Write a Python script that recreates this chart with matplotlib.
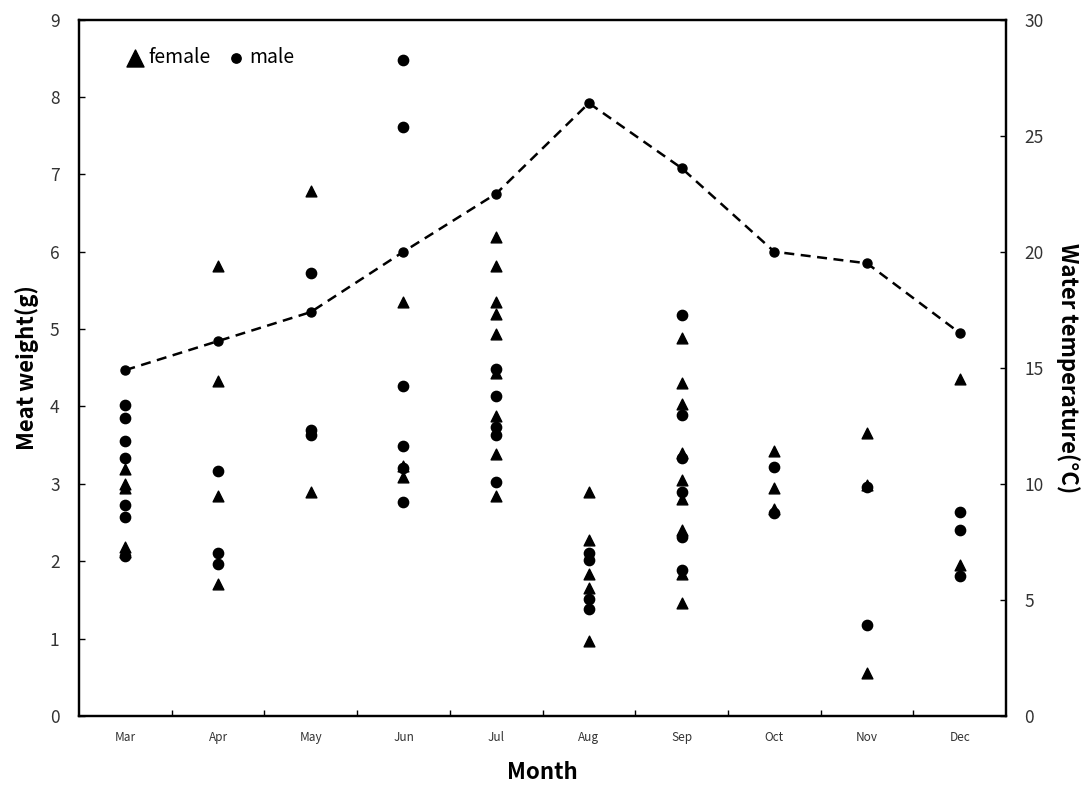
import matplotlib.pyplot as plt
from matplotlib.ticker import FixedLocator, NullFormatter

plt.rcParams['font.family'] = ['Noto Sans CJK KR', 'DejaVu Sans']

months = ["Mar", "Apr", "May", "Jun", "Jul", "Aug", "Sep", "Oct", "Nov", "Dec"]

# meat weight (g) of individual animals
female = {
    "Mar": [3.19, 3.00, 2.94, 2.19, 2.12],
    "Apr": [5.81, 4.33, 2.84, 1.71],
    "May": [6.78, 2.90],
    "Jun": [5.35, 3.23, 3.09],
    "Jul": [6.19, 5.81, 5.35, 5.19, 4.94, 4.43, 3.88, 3.38, 2.84],
    "Aug": [2.89, 2.28, 1.84, 1.65, 0.97],
    "Sep": [4.89, 4.30, 4.03, 3.40, 3.05, 2.81, 2.40, 1.84, 1.46],
    "Oct": [3.42, 2.94, 2.67],
    "Nov": [3.66, 2.98, 0.56],
    "Dec": [4.35, 1.95],
}
male = {
    "Mar": [4.02, 3.85, 3.56, 3.33, 2.73, 2.57, 2.07],
    "Apr": [3.17, 2.11, 1.96],
    "May": [5.73, 3.70, 3.63],
    "Jun": [8.48, 7.61, 4.27, 3.49, 3.21, 2.76],
    "Jul": [4.48, 4.13, 3.74, 3.63, 3.03],
    "Aug": [2.11, 2.02, 1.51, 1.38],
    "Sep": [5.18, 3.89, 3.34, 2.90, 2.31, 1.89],
    "Oct": [3.22, 2.62],
    "Nov": [2.96, 1.18],
    "Dec": [2.64, 2.40, 1.81],
}
# water temperature (°C)
water_temp = [14.9, 16.15, 17.4, 20.0, 22.5, 26.4, 23.6, 20.0, 19.5, 16.5]

fig = plt.figure(figsize=(10.9, 7.91), dpi=100)
ax = fig.add_axes([0.0725, 0.0948, 0.8505, 0.8805])
ax2 = ax.twinx()

xs = range(len(months))
fx, fy, mx, my = [], [], [], []
for i, m in enumerate(months):
    fx += [i] * len(female[m])
    fy += female[m]
    mx += [i] * len(male[m])
    my += male[m]

ax.scatter(fx, fy, marker="^", s=60, color="black", zorder=3, label="female")
ax.scatter(mx, my, marker="o", s=55, color="black", zorder=3, label="male")
ax2.plot(xs, water_temp, color="black", linestyle=(0, (4, 2.6)), linewidth=1.8,
         marker="o", markersize=6.5)

ax.set_xlim(-0.5, len(months) - 0.5)
ax.set_ylim(0, 9)
ax2.set_ylim(0, 30)

ax.set_xticks(list(xs))
ax.set_xticklabels(months, fontsize=8.5, color="#333333")
ax.tick_params(axis="x", which="major", length=0, pad=11)
ax.xaxis.set_minor_locator(FixedLocator([i + 0.5 for i in range(len(months) - 1)]))
ax.xaxis.set_minor_formatter(NullFormatter())
ax.tick_params(axis="x", which="minor", direction="in", length=4, width=1)

ax.set_yticks(range(10))
ax.tick_params(axis="y", direction="in", length=4, width=1, pad=14, labelsize=12.5,
               labelcolor="#333333")
ax2.set_yticks(range(0, 31, 5))
ax2.tick_params(axis="y", direction="in", length=4, width=1, pad=13, labelsize=12.5,
                labelcolor="#333333")

for a in (ax, ax2):
    for s in a.spines.values():
        s.set_linewidth(1.6)

ax.set_xlabel("Month", fontsize=16, fontweight="bold", labelpad=12)
ax.set_ylabel("Meat weight(g)", fontsize=16, fontweight="bold", labelpad=8)
ax2.set_ylabel("Water temperature(°C)", fontsize=16, fontweight="bold",
               rotation=-90, labelpad=26)

leg = ax.legend(loc="upper left", bbox_to_anchor=(0.02, 0.985), ncol=2, frameon=False,
                fontsize=14, handletextpad=-0.3, columnspacing=0.3)
leg.legend_handles[0].set_sizes([150])
leg.legend_handles[1].set_sizes([45])

fig.savefig("out.png", dpi=100)
